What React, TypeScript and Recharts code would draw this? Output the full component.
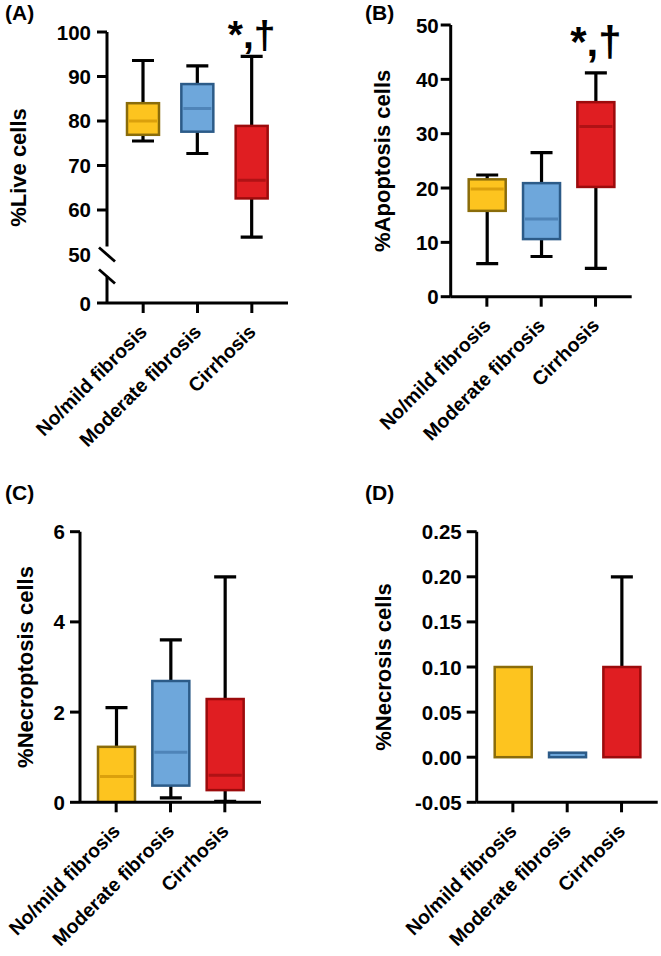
import React from "react";
import { Bar, ComposedChart, LabelList, XAxis, YAxis } from "recharts";

const groups = ["No/mild fibrosis", "Moderate fibrosis", "Cirrhosis"];
const boxFill = ["#FDC41F", "#6EA7DB", "#E01E22"];
const boxEdge = ["#8A6C0A", "#2C5B88", "#9C0B0C"];
const boxMedian = ["#DBA00C", "#4F84B8", "#B01215"];

// [min, q1, median, q3, max] per group
const liveCells = [
  [75.5, 76.9, 80.0, 84.0, 93.6],
  [72.7, 77.6, 82.8, 88.3, 92.4],
  [53.9, 62.6, 66.7, 78.9, 94.5],
];
const apoptosisCells = [
  [6.1, 15.8, 19.8, 21.6, 22.4],
  [7.4, 10.6, 14.3, 20.9, 26.5],
  [5.2, 20.2, 31.3, 35.8, 41.2],
];
const necroptosisCells = [
  [0, 0, 0.57, 1.23, 2.1],
  [0.1, 0.37, 1.11, 2.69, 3.6],
  [0.02, 0.27, 0.6, 2.29, 5.0],
];
const necrosisCells = [
  [0, 0, 0, 0.1, 0.1],
  [0, 0, 0, 0.005, 0.005],
  [0, 0, 0, 0.1, 0.2],
];

const liveMarks = ["", "", "*,†"];
const apoptosisMarks = ["", "", "*,†"];
const noMarks = ["", "", ""];

const liveTicks = [0, 50, 60, 70, 80, 90, 100];
const apoptosisTicks = [0, 10, 20, 30, 40, 50];
const necroptosisTicks = [0, 2, 4, 6];
const necrosisTicks = [-0.05, 0, 0.05, 0.1, 0.15, 0.2, 0.25];

// the live-cell axis is broken between 0 and 50; 0 is drawn at this axis value
const LIVE_ZERO_AT = 39.1;

const FONT = "'Liberation Sans', Arial, sans-serif";

type Row = {
  group: string;
  min: number;
  q1: number;
  median: number;
  q3: number;
  max: number;
  mark: string;
};

function makeRows(stats: number[][], marks: string[]): Row[] {
  return groups.map((group, i) => {
    const [min, q1, median, q3, max] = stats[i];
    return { group, min, q1, median, q3, max, mark: marks[i] };
  });
}

function BoxShape(props: any) {
  const { x, y, width, height, payload, index } = props;
  const top = Math.min(y, y + height);
  const bottom = Math.max(y, y + height);
  const span = payload.max - payload.min || 1;
  const at = (v: number) => bottom - ((v - payload.min) / span) * (bottom - top);
  const cx = x + width / 2;
  const cap = 11;
  return (
    <g>
      {payload.min < payload.q1 && (
        <g stroke="#000" strokeWidth={3.2}>
          <line x1={cx} x2={cx} y1={at(payload.q1)} y2={at(payload.min)} />
          <line x1={cx - cap} x2={cx + cap} y1={at(payload.min)} y2={at(payload.min)} />
        </g>
      )}
      {payload.max > payload.q3 && (
        <g stroke="#000" strokeWidth={3.2}>
          <line x1={cx} x2={cx} y1={at(payload.q3)} y2={at(payload.max)} />
          <line x1={cx - cap} x2={cx + cap} y1={at(payload.max)} y2={at(payload.max)} />
        </g>
      )}
      <rect
        x={x}
        y={at(payload.q3)}
        width={width}
        height={at(payload.q1) - at(payload.q3)}
        fill={boxFill[index]}
        stroke={boxEdge[index]}
        strokeWidth={2.5}
      />
      {payload.median > payload.q1 && payload.median < payload.q3 && (
        <line
          x1={x + 2}
          x2={x + width - 2}
          y1={at(payload.median)}
          y2={at(payload.median)}
          stroke={boxMedian[index]}
          strokeWidth={3}
        />
      )}
    </g>
  );
}

type PanelProps = {
  letter: string;
  letterX: number;
  title: string;
  rows: Row[];
  domain: [number, number];
  ticks: number[];
  fmt: (v: number) => string;
  axisX: number;
  plotTop: number;
  plotBottom: number;
  boxWidth: number;
  titleX: number;
  labelGap: number;
  breakAt?: number;
  markSize?: number;
  markLift?: number;
};

const W = 331;
const H = 476;
const Y_AXIS_W = 70;
const X_AXIS_H = 140;
const X_LEN = 181;
const TICK_FONT = 20.5;
const GROUP_FONT = 19.5;
const TITLE_FONT = 22;

function Panel(p: PanelProps) {
  const yTick = (t: any) => {
    const v = t.payload.value;
    const label = (
      <text
        x={p.axisX - 10 - p.labelGap}
        y={t.y}
        textAnchor="end"
        dominantBaseline="central"
        fontSize={TICK_FONT}
        fontWeight="bold"
        fontFamily={FONT}
        fill="#000"
      >
        {p.fmt(v)}
      </text>
    );
    if (p.breakAt !== undefined && v === p.breakAt) {
      const ax = p.axisX;
      return (
        <g>
          {label}
          <rect x={ax - 3} y={t.y - 8} width={6} height={30} fill="#fff" />
          <line x1={ax - 8} x2={ax + 8} y1={t.y - 7} y2={t.y + 7} stroke="#000" strokeWidth={2.8} />
          <line x1={ax - 8} x2={ax + 8} y1={t.y + 15} y2={t.y + 29} stroke="#000" strokeWidth={2.8} />
        </g>
      );
    }
    return (
      <g>
        <line x1={p.axisX - 10} x2={p.axisX} y1={t.y} y2={t.y} stroke="#000" strokeWidth={3} />
        {label}
      </g>
    );
  };

  const xTick = (t: any) => {
    const tx = t.x + 5;
    const ty = p.plotBottom + 30;
    return (
      <text
        x={tx}
        y={ty}
        transform={`rotate(-45, ${tx}, ${ty})`}
        textAnchor="end"
        fontSize={GROUP_FONT}
        fontWeight="bold"
        fontFamily={FONT}
        fill="#000"
      >
        {t.payload.value}
      </text>
    );
  };

  const yTitle = (l: any) => {
    const vb = l.viewBox;
    const cy = vb.y + vb.height / 2;
    return (
      <text
        x={p.titleX}
        y={cy}
        transform={`rotate(-90, ${p.titleX}, ${cy})`}
        textAnchor="middle"
        dominantBaseline="central"
        fontSize={TITLE_FONT}
        fontWeight="bold"
        fontFamily={FONT}
        fill="#000"
      >
        {p.title}
      </text>
    );
  };

  const mark = (l: any) => {
    if (!l.value) return null;
    const top = Math.min(l.y, l.y + l.height);
    return (
      <text
        x={l.x + l.width / 2}
        y={top - (p.markLift ?? 12)}
        textAnchor="middle"
        fontSize={p.markSize ?? 35}
        fontWeight="bold"
        fontFamily={FONT}
        fill="#000"
      >
        {l.value}
      </text>
    );
  };

  const axisTicks =
    p.breakAt !== undefined ? p.ticks.map((v) => (v === 0 ? LIVE_ZERO_AT : v)) : p.ticks;

  return (
    <div style={{ position: "relative", width: W, height: H }}>
      <div
        style={{
          position: "absolute",
          left: p.letterX,
          top: 2,
          fontFamily: FONT,
          fontWeight: "bold",
          fontSize: 21,
          lineHeight: "21px",
        }}
      >
        {p.letter}
      </div>
      <ComposedChart
        width={W}
        height={H}
        data={p.rows}
        margin={{
          top: p.plotTop,
          left: p.axisX - Y_AXIS_W,
          right: W - p.axisX - X_LEN,
          bottom: H - p.plotBottom - X_AXIS_H,
        }}
      >
        <XAxis
          dataKey="group"
          type="category"
          height={X_AXIS_H}
          interval={0}
          padding={{ left: 9, right: 9 }}
          axisLine={{ stroke: "#000", strokeWidth: 3 }}
          tickLine={{ stroke: "#000", strokeWidth: 3 }}
          tickSize={10}
          tick={xTick}
        />
        <YAxis
          type="number"
          width={Y_AXIS_W}
          domain={p.domain}
          ticks={axisTicks}
          interval={0}
          allowDataOverflow
          axisLine={{ stroke: "#000", strokeWidth: 3 }}
          tickLine={false}
          tickSize={10}
          tick={yTick}
          label={yTitle}
        />
        <Bar
          dataKey={(d: Row) => [d.min, d.max]}
          barSize={p.boxWidth}
          shape={(s: any) => <BoxShape {...s} />}
          isAnimationActive={false}
        >
          <LabelList dataKey="mark" content={mark} />
        </Bar>
      </ComposedChart>
    </div>
  );
}

export default function App() {
  const two = (v: number) => v.toFixed(2);
  const plain = (v: number) => (v === LIVE_ZERO_AT ? "0" : String(v));
  return (
    <div
      style={{
        position: "absolute",
        left: 0,
        top: 0,
        width: 661,
        height: 956,
        background: "#fff",
      }}
    >
      <div style={{ position: "absolute", left: 0, top: 0 }}>
        <Panel
          letter="(A)"
          letterX={5}
          title="%Live cells"
          rows={makeRows(liveCells, liveMarks)}
          domain={[LIVE_ZERO_AT, 100]}
          ticks={liveTicks}
          fmt={plain}
          axisX={107}
          plotTop={32}
          plotBottom={303}
          boxWidth={32}
          titleX={18}
          labelGap={6}
          breakAt={50}
          markSize={39}
          markLift={8}
        />
      </div>
      <div style={{ position: "absolute", left: 330, top: 0 }}>
        <Panel
          letter="(B)"
          letterX={35}
          title="%Apoptosis cells"
          rows={makeRows(apoptosisCells, apoptosisMarks)}
          domain={[0, 50]}
          ticks={apoptosisTicks}
          fmt={plain}
          axisX={120.7}
          plotTop={25}
          plotBottom={296.7}
          boxWidth={37}
          titleX={53}
          labelGap={2}
          markSize={42}
          markLift={17}
        />
      </div>
      <div style={{ position: "absolute", left: 0, top: 480 }}>
        <Panel
          letter="(C)"
          letterX={5}
          title="%Necroptosis cells"
          rows={makeRows(necroptosisCells, noMarks)}
          domain={[0, 6]}
          ticks={necroptosisTicks}
          fmt={plain}
          axisX={80}
          plotTop={51.7}
          plotBottom={322.3}
          boxWidth={37}
          titleX={25}
          labelGap={5}
        />
      </div>
      <div style={{ position: "absolute", left: 330, top: 480 }}>
        <Panel
          letter="(D)"
          letterX={35}
          title="%Necrosis cells"
          rows={makeRows(necrosisCells, noMarks)}
          domain={[-0.05, 0.25]}
          ticks={necrosisTicks}
          fmt={two}
          axisX={146.7}
          plotTop={51.7}
          plotBottom={322.3}
          boxWidth={37}
          titleX={53}
          labelGap={5}
        />
      </div>
    </div>
  );
}
